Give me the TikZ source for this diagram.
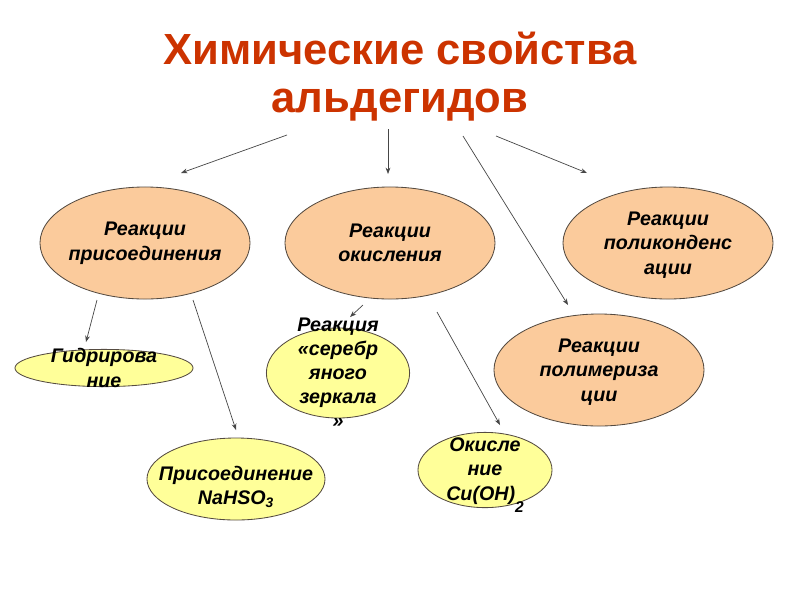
\documentclass[tikz,border=0pt]{standalone}
\usepackage{fontspec}
\setmainfont{Liberation Sans}
\definecolor{TitleRed}{RGB}{204,51,0}
\definecolor{PeachFill}{RGB}{251,203,156}
\definecolor{LemonFill}{RGB}{255,255,153}
\definecolor{EdgeGray}{RGB}{85,75,65}
\definecolor{ArrowGray}{RGB}{70,70,70}
\usetikzlibrary{positioning,arrows.meta,shapes.geometric}
\tikzset{
  peach/.style={ellipse,draw=EdgeGray,fill=PeachFill,line width=0.6pt,minimum width=5.25cm,minimum height=2.8cm},
  lemon/.style={ellipse,draw=EdgeGray,fill=LemonFill,line width=0.6pt},
  etext/.style={align=center,font=\fontsize{14}{17.5}\selectfont\bfseries\itshape},
  title/.style={align=center,text=TitleRed,font=\fontsize{31}{34}\selectfont\bfseries},
  arrow/.style={-{Stealth[length=1.6mm,width=1.2mm]},line width=0.5pt,draw=ArrowGray},
}

\begin{document}
\begin{tikzpicture}[x=0.025cm,y=-0.025cm]
      \useasboundingbox (0,0) rectangle (800,600);
      \node[title] (ttl) at (400,77) {Химические свойства\\альдегидов};
      % first row
      \node[peach] (addn) at (145,243) {};
      \node at (addn) [etext] {Реакции\\присоединения};
      \node[peach] (oxid) at (390,243) {};
      \node at (oxid) [etext] {Реакции\\окисления};
      \node[peach] (pcond) at (668,243) {};
      \node at (pcond) [etext,yshift=-0.05cm] {Реакции\\поликонденс\\ации};
      \node[peach] (polym) at (599,370) {};
      \node at (polym) [etext,yshift=-0.05cm] {Реакции\\полимериза\\ции};
      % second row
      \node[lemon,minimum width=4.45cm,minimum height=0.93cm] (hydr) at (104,368) {};
      \node at (hydr) [etext] {Гидрирова\\ние};
      \node[lemon,minimum width=3.58cm,minimum height=2.25cm] (silv) at (338,373) {};
      \node at (silv) [etext,font=\fontsize{14}{17}\selectfont\bfseries\itshape] {Реакция\\«серебр\\яного\\зеркала\\»};
      \node[lemon,minimum width=4.45cm,minimum height=2.05cm] (bisulf) at (236,479) {};
      \node at (bisulf) [etext,yshift=-0.2cm] {Присоединение\\NaHSO\textsubscript{3}};
      \node[lemon,minimum width=3.35cm,minimum height=1.88cm] (cuoh) at (485,470) {};
      \node at (cuoh) [etext,yshift=-0.12cm] {Окисле\\ние\\Cu(OH)\raisebox{-1.1ex}{\fontsize{11}{11}\selectfont 2}};
      % arrow ends
      \coordinate (t1) at (287,135); \coordinate (e1) at (181,173);
      \coordinate (t2) at (388,129); \coordinate (e2) at (388,174);
      \coordinate (t3) at (463,136); \coordinate (e3) at (568,305);
      \coordinate (t4) at (496,136); \coordinate (e4) at (587,173);
      \coordinate (a1) at (97,300);  \coordinate (a2) at (86,342);
      \coordinate (a3) at (193,300); \coordinate (a4) at (236,430);
      \coordinate (o1) at (363,305); \coordinate (o2) at (350,317);
      \coordinate (o3) at (437,312); \coordinate (o4) at (500,425);
      \draw[arrow] (t1)--(e1); \draw[arrow] (t2)--(e2);
      \draw[arrow] (t3)--(e3); \draw[arrow] (t4)--(e4);
      \draw[arrow] (a1)--(a2); \draw[arrow] (a3)--(a4);
      \draw[arrow] (o1)--(o2); \draw[arrow] (o3)--(o4);
    \end{tikzpicture}
\end{document}
